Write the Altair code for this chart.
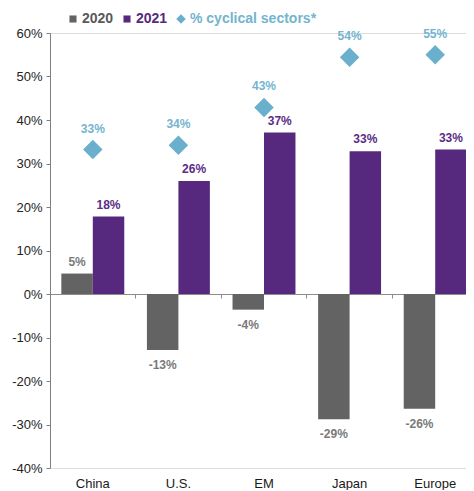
import altair as alt
import pandas as pd

countries = ["China", "U.S.", "EM", "Japan", "Europe"]
y2020 = [4.7, -12.9, -3.6, -28.8, -26.4]
y2021 = [17.8, 26.0, 37.1, 32.8, 33.2]
cyclical = [33.2, 34.2, 42.9, 54.4, 55.0]
series_names = ["2020", "2021", "% cyclical sectors*"]
y_ticks = [-40, -30, -20, -10, 0, 10, 20, 30, 40, 50, 60]

bar_rows = []
for c, a, b in zip(countries, y2020, y2021):
    bar_rows.append({"country": c, "series": "2020", "value": a})
    bar_rows.append({"country": c, "series": "2021", "value": b})
bars_df = pd.DataFrame(bar_rows)
pts_df = pd.DataFrame({"country": countries, "series": series_names[2], "value": cyclical})

W, H = 428, 435
FONT = "Liberation Sans"

color_scale = alt.Scale(domain=series_names, range=["#636363", "#56297F", "#6AAFCB"])
legend = alt.Legend(
    title=None, orient="none", legendX=16, legendY=-21, direction="horizontal",
    labelFontSize=14, labelFontWeight="bold", labelFont=FONT,
    labelColor={"expr": "datum.value == '2020' ? '#595959' : (datum.value == '2021' ? '#56297F' : '#74B4CE')"},
    symbolType={"expr": "datum.value == '% cyclical sectors*' ? 'diamond' : 'square'"},
    symbolSize={"expr": "datum.value == '% cyclical sectors*' ? 90 : 50"},
    symbolStrokeWidth=0, padding=0, columnPadding=6, labelOffset=2,
)

x_scale = alt.Scale(paddingInner=0, paddingOuter=0)
y_enc = alt.Y(
    "value:Q",
    scale=alt.Scale(domain=[-40, 60], nice=False, zero=False),
    axis=alt.Axis(
        title=None, values=y_ticks, labelExpr="datum.value + '%'", grid=False,
        domainColor="#7f7f7f", tickColor="#7f7f7f", tickSize=4, labelPadding=4,
        labelFontSize=13, labelColor="#222222", labelFont=FONT,
    ),
)
x_labels = alt.X(
    "country:N", sort=countries, scale=x_scale,
    axis=alt.Axis(title=None, domain=False, ticks=False, labelPadding=9, labelAngle=0,
                  labelFontSize=13, labelColor="#1a1a1a", labelFont=FONT),
)
x_zero = alt.X(
    "country:N", sort=countries, scale=x_scale,
    axis=alt.Axis(title=None, labels=False, domain=True, ticks=True, tickSize=4,
                  bandPosition=0, offset=-H * 40 / 100, orient="bottom",
                  domainColor="#8c8c8c", tickColor="#8c8c8c"),
)
x_none = alt.X("country:N", sort=countries, scale=x_scale, axis=None)
xoff = alt.XOffset("series:N", sort=["2020", "2021"], scale=alt.Scale(paddingInner=0, paddingOuter=0.36))

bars = alt.Chart(bars_df).mark_bar().encode(
    x=x_labels, xOffset=xoff, y=y_enc,
    color=alt.Color("series:N", scale=color_scale, legend=legend),
)

lbl_color = alt.condition("datum.series == '2020'", alt.value("#7a7a7a"), alt.value("#5B2C86"))
base_lbl = alt.Chart(bars_df).transform_calculate(lbl="round(datum.value) + '%'")
pos_lbl = base_lbl.transform_filter("datum.value >= 0").mark_text(
    fontSize=12, fontWeight="bold", font=FONT, baseline="middle", dy=-12
).encode(x=x_none, xOffset=xoff, y=y_enc, text="lbl:N", color=lbl_color)
neg_lbl = base_lbl.transform_filter("datum.value < 0").mark_text(
    fontSize=12, fontWeight="bold", font=FONT, baseline="middle", dy=15
).encode(x=x_none, xOffset=xoff, y=y_enc, text="lbl:N", color=lbl_color)

points = alt.Chart(pts_df).mark_point(shape="diamond", filled=True, size=380, opacity=1).encode(
    x=x_zero, y=y_enc,
    color=alt.Color("series:N", scale=color_scale, legend=legend),
)
pt_lbl = alt.Chart(pts_df).transform_calculate(lbl="round(datum.value) + '%'").mark_text(
    fontSize=12, fontWeight="bold", font=FONT, baseline="middle", dy=-21, color="#74B4CE"
).encode(x=x_none, y=y_enc, text="lbl:N")

chart = alt.layer(bars, pos_lbl, neg_lbl, points, pt_lbl).resolve_axis(x="independent").properties(
    width=W, height=H,
    autosize=alt.AutoSizeParams(type="none"),
    padding={"left": 42, "top": 25, "right": -12, "bottom": 22},
).configure_view(stroke=None).configure(font=FONT)

chart.save("out.html", embed_options={"renderer": "svg", "actions": False})
